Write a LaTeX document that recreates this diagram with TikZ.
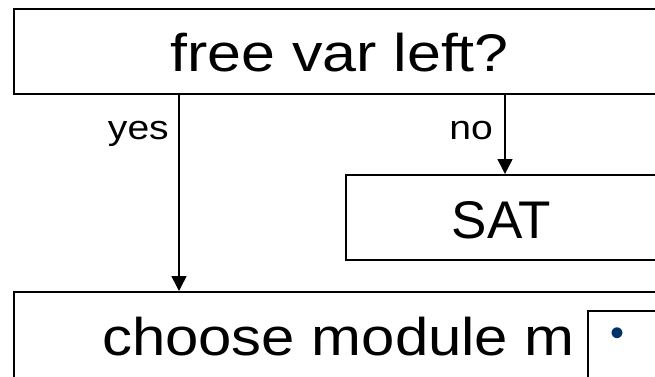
\documentclass[tikz,border=0pt]{standalone}
\usepackage{fontspec}
\setmainfont{Liberation Sans}
\newfontfamily\widefont[FakeStretch=1.15]{Liberation Sans}
\newfontfamily\widerfont[FakeStretch=1.13]{Liberation Sans}
\newfontfamily\plainbig{Liberation Sans}
\usetikzlibrary{arrows.meta}
\definecolor{bulletblue}{RGB}{0,51,102}
\begin{document}
\begin{tikzpicture}[x=1pt,y=-1pt,
  box/.style={draw,line width=2pt,inner sep=0pt,anchor=north west,fill=white,
    text depth=0pt},
  bigtxt/.style={font=\widefont\fontsize{53}{60}\selectfont},
  lbl/.style={font=\widefont\fontsize{34}{38}\selectfont,inner sep=0pt},
  arr/.style={line width=1.5pt,-{Triangle[length=15pt,width=15pt]}}]
\useasboundingbox (0,0) rectangle (655,376);
\clip (0,0) rectangle (655,376);
\node[box,bigtxt,minimum width=651pt,minimum height=84.7pt,text height=38.7pt]
  (q) at (13,8.3) {free var left?};
\node[box,minimum width=311pt,minimum height=85pt,text height=41pt,
  font=\plainbig\fontsize{53}{60}\selectfont] (sat) at (345,174) {SAT};
\node[box,font=\widerfont\fontsize{53}{60}\selectfont,minimum width=649.6pt,
  minimum height=85.5pt,text height=40.5pt]
  (cm) at (12.7,291) {choose module m};
\node[box,minimum width=120pt,minimum height=120pt] (inner) at (587,310) {};
\node[text=bulletblue,font=\plainbig\fontsize{40}{40}\selectfont,inner sep=0pt]
  (dot) at (617,337) {•};
\coordinate (yx) at (179,0);
\coordinate (nx) at (505,0);
\draw[arr] (q.south -| yx) -- (cm.north -| yx);
\draw[arr] (q.south -| nx) -- (sat.north -| nx);
\node[lbl,anchor=base east] (yes) at (169,139) {yes};
\node[lbl,anchor=base east] (no) at (493,139) {no};
\end{tikzpicture}
\end{document}
